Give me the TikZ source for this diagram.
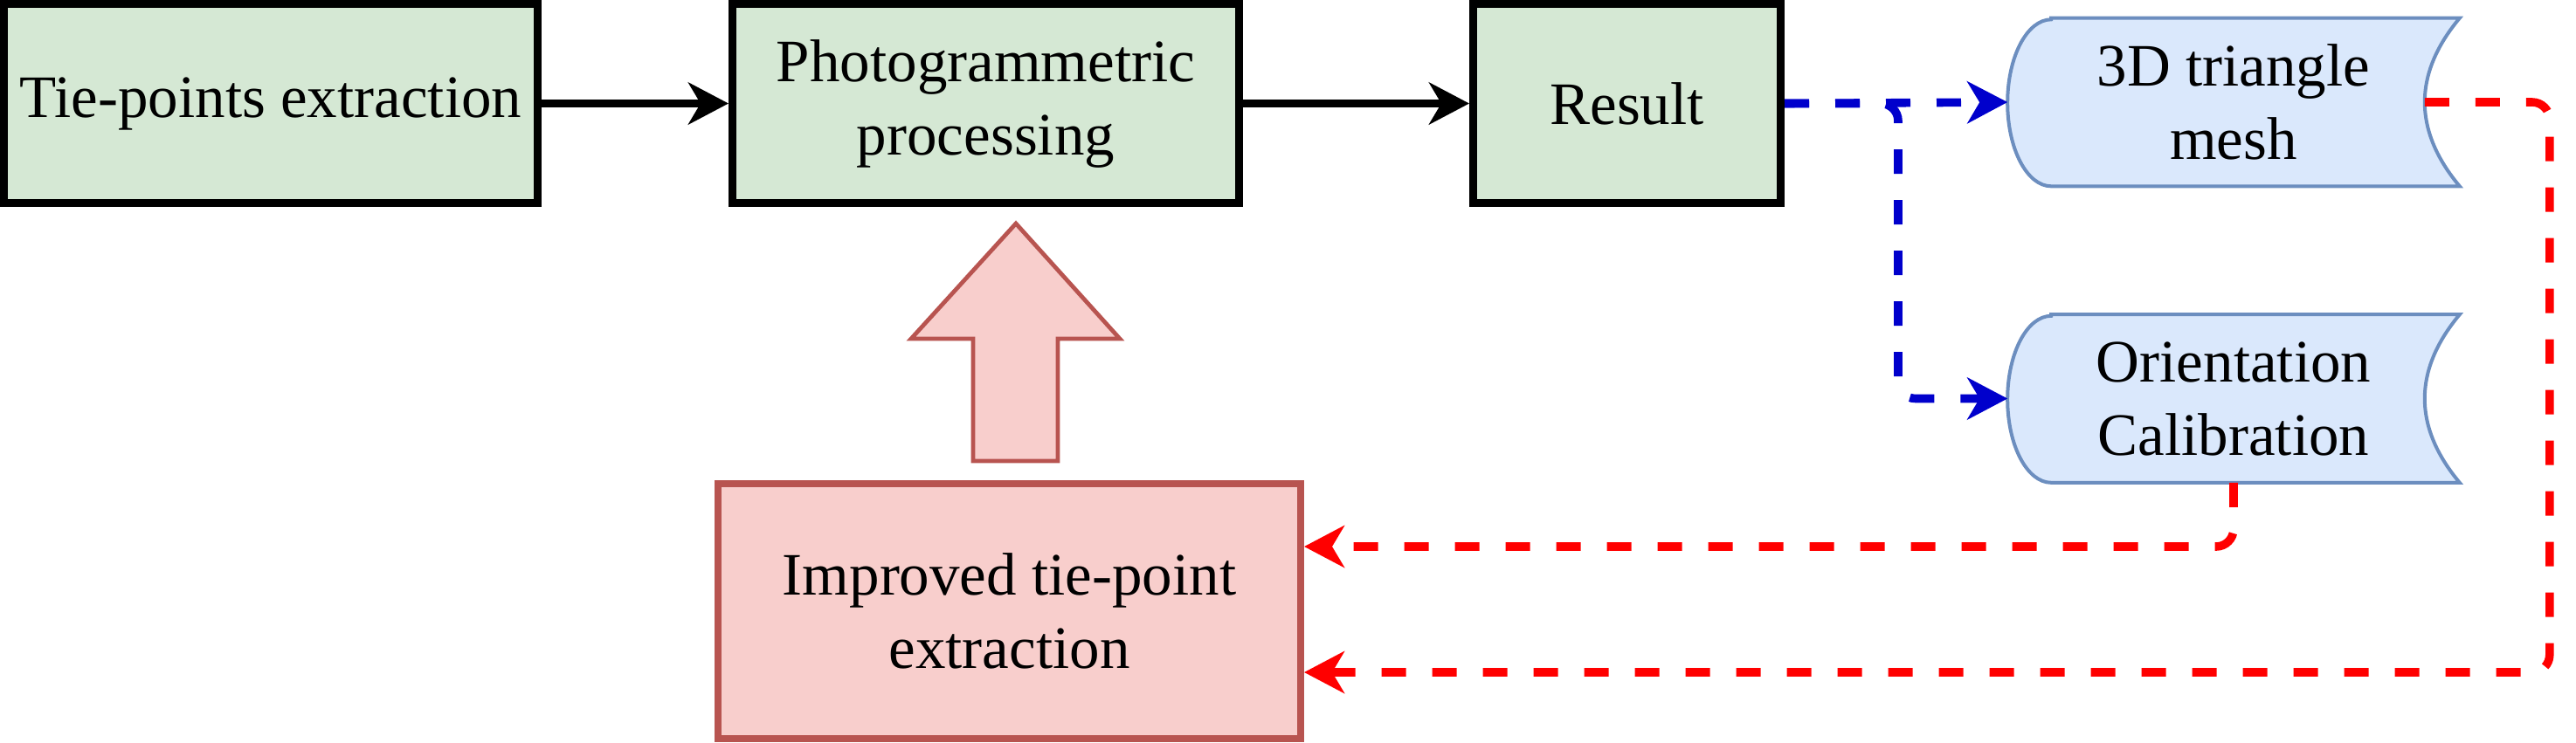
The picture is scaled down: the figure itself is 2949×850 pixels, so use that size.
\documentclass[tikz,border=0pt]{standalone}
\usepackage{fontspec}
\setmainfont{Liberation Serif}
\usetikzlibrary{arrows.meta,calc}
\definecolor{gfill}{HTML}{D5E8D4}
\definecolor{rfill}{HTML}{F8CECC}
\definecolor{rdraw}{HTML}{B85450}
\definecolor{bfill}{HTML}{DAE8FC}
\definecolor{bdraw}{HTML}{6C8EBF}
\definecolor{bline}{HTML}{0000CC}
\definecolor{rline}{HTML}{FF0000}
\pgfdeclarelayer{bg}
\pgfsetlayers{bg,main}
\begin{document}
\begin{tikzpicture}[x=0.25pt,y=-0.25pt,
  txt/.style={font=\fontsize{17.25pt}{21pt}\selectfont, align=center, inner sep=0pt},
  gbox/.style={txt, draw=black, line width=2.25pt, fill=gfill, minimum height=57pt},
  rbox/.style={txt, draw=rdraw, line width=2pt, fill=rfill},
  store/.style={txt, minimum width=129pt, minimum height=47.75pt},
  storeshape/.style={draw=bdraw, fill=bfill, line width=1pt},
  tip/.style={-{Stealth[length=11.5pt,width=12pt,inset=3.5pt]}},
  blk/.style={tip, line width=2.25pt, draw=black},
  bdash/.style={tip, line width=2.4pt, draw=bline, dash pattern=on 7pt off 7.5pt, rounded corners=5pt},
  rdash/.style={tip, line width=2.4pt, draw=rline, dash pattern=on 7pt off 7.5pt, rounded corners=5pt},
  bigarrow/.style={draw=rdraw, fill=rfill, line width=1.2pt}
]
\useasboundingbox (0,0) rectangle (2949,850);

\node[gbox, minimum width=152.75pt] (b1) at (310,118.5) {Tie-points extraction};
\node[gbox, minimum width=145pt] (b2) at (1128.5,118.5) {Photogrammetric\\processing};
\node[gbox, minimum width=88pt] (res) at (1862.5,118.5) {Result};
\node[rbox, minimum width=166.75pt, minimum height=73pt] (imp) at (1155.5,700) {Improved tie-point\\extraction};

\node[store] (mesh) at (2557,117) {3D triangle\\mesh};
\node[store] (ori) at (2557,456.5) {Orientation\\Calibration};

\begin{pgfonlayer}{bg}
\foreach \n in {mesh,ori}{
  \draw[storeshape] ($(\n.north west)+(50,0)$) -- (\n.north east)
    .. controls ($(\n.north east)+(-53.33,63.67)$) and ($(\n.south east)+(-53.33,-63.67)$) .. (\n.south east)
    -- ($(\n.south west)+(50,0)$)
    arc[start angle=270, end angle=90, x radius=12.5pt, y radius=23.875pt] -- cycle;
}
\end{pgfonlayer}

\coordinate (meshR) at ($(mesh.east)+(-40,0)$);

% big up arrow
\draw[bigarrow] (1114,528) -- (1114,388) -- (1043,388) -- (1163,256) -- (1282,388)
  -- (1211,388) -- (1211,528) -- cycle;

% black arrows
\draw[blk] (b1.east) -- (b2.west);
\draw[blk] (b2.east) -- (res.west);

% blue dashed arrows
\draw[bdash] (res.east) -- (mesh.west);
\draw[bdash] (res.east) -- ++(130,0) |- (ori.west);

% red dashed arrows
\draw[rdash] (ori.south) |- ([yshift=18.5pt]imp.east);
\draw[rdash] (meshR) -- ++(143,0) |- ([yshift=-17.5pt]imp.east);
\end{tikzpicture}
\end{document}
